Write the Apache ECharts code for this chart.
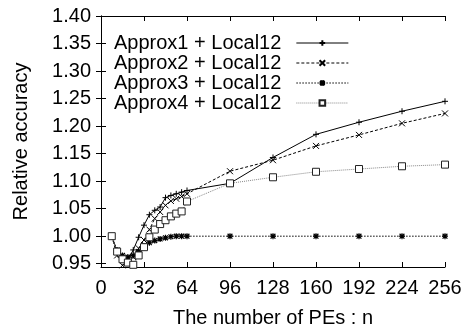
<!DOCTYPE html>
<html>
<head>
<meta charset="utf-8">
<script src="https://cdn.jsdelivr.net/npm/echarts@6/dist/echarts.min.js"></script>
<style>html,body{margin:0;padding:0;background:#fff}#c{width:462px;height:329px}</style>
</head>
<body>
<div id="c"></div>
<script>
const nValues = [8,12,16,20,24,28,32,36,40,44,48,52,56,60,64,96,128,160,192,224,256];
const approx1 = [1.000,0.972,0.960,0.957,0.975,0.998,1.020,1.039,1.047,1.053,1.070,1.074,1.077,1.080,1.083,1.096,1.143,1.185,1.207,1.227,1.245];
const approx2 = [1.000,0.965,0.947,0.952,0.962,0.978,0.993,1.012,1.032,1.044,1.056,1.064,1.068,1.072,1.077,1.118,1.138,1.164,1.184,1.205,1.223];
const approx3 = [1.000,0.975,0.965,0.962,0.965,0.972,0.982,0.988,0.992,0.995,0.997,0.999,1.000,1.000,1.000,1.000,1.000,1.000,1.000,1.000,1.000];
const approx4 = [1.000,0.972,0.958,0.952,0.948,0.965,0.980,0.998,1.012,1.022,1.029,1.036,1.041,1.045,1.063,1.096,1.107,1.117,1.122,1.127,1.130];
const seriesNames = ['Approx1 + Local12','Approx2 + Local12','Approx3 + Local12','Approx4 + Local12'];
const yTicks = [0.95,1.00,1.05,1.10,1.15,1.20,1.25,1.30,1.35,1.40];
const xTicks = [0,32,64,96,128,160,192,224,256];

const FONT = '"Liberation Sans", Arial, Helvetica, sans-serif';
const pairs = arr => nValues.map((n,i)=>[n,arr[i]]);

const plusPath = 'path://M5,0L5,10M0,5L10,5';
const crossPath = 'path://M0,0L10,10M10,0L0,10';
const starPath = 'path://M5,0L5,10M0,5L10,5M1,1L9,9M9,1L1,9';

const chart = echarts.init(document.getElementById('c'), null, {renderer:'canvas'});
const axisLine = {show:true, lineStyle:{color:'#000', width:1}};
const tick = {show:true, inside:true, length:5, lineStyle:{color:'#000', width:1}};

chart.setOption({
  animation:false,
  backgroundColor:'#fff',
  grid:{left:101, right:17, top:16, bottom:62, containLabel:false, outerBoundsMode:'none'},
  legend:{
    orient:'vertical', left:114, top:33, align:'right', padding:0,
    itemWidth:52, itemHeight:7, itemGap:0,
    textStyle:{fontFamily:FONT, fontSize:20, color:'#000', lineHeight:19, padding:[0,10,0,0]},
    lineStyle:{width:1},
    data:seriesNames
  },
  xAxis:[
    {type:'value', min:0, max:256, interval:32, position:'bottom',
     name:'The number of PEs : n', nameLocation:'middle', nameGap:41,
     nameTextStyle:{fontFamily:FONT, fontSize:20, color:'#000'},
     axisLine:axisLine, axisTick:tick, splitLine:{show:false},
     axisLabel:{fontFamily:FONT, fontSize:20, color:'#000', margin:11}},
    {type:'value', min:0, max:256, interval:32, position:'top',
     axisLine:axisLine, axisTick:tick, splitLine:{show:false}, axisLabel:{show:false}}
  ],
  yAxis:[
    {type:'value', min:0.944, max:1.40, position:'left',
     name:'Relative accuracy', nameLocation:'middle', nameGap:70,
     nameTextStyle:{fontFamily:FONT, fontSize:20, color:'#000'},
     axisLine:axisLine, axisTick:Object.assign({customValues:yTicks}, tick), splitLine:{show:false},
     axisLabel:{customValues:yTicks, fontFamily:FONT, fontSize:20, color:'#000', margin:10,
       formatter:v=>Number(v).toFixed(2)}},
    {type:'value', min:0.944, max:1.40, position:'right',
     axisLine:axisLine, axisTick:Object.assign({customValues:yTicks}, tick), splitLine:{show:false},
     axisLabel:{show:false}}
  ],
  series:[
    {name:seriesNames[0], type:'line', data:pairs(approx1), symbol:plusPath, symbolSize:6,
     lineStyle:{color:'#000', width:1, type:'solid'},
     itemStyle:{color:'#000', borderColor:'#000', borderWidth:1}},
    {name:seriesNames[1], type:'line', data:pairs(approx2), symbol:crossPath, symbolSize:6,
     lineStyle:{color:'#000', width:1, type:[3,2]},
     itemStyle:{color:'#000', borderColor:'#000', borderWidth:1}},
    {name:seriesNames[2], type:'line', data:pairs(approx3), symbol:starPath, symbolSize:6,
     lineStyle:{color:'#000', width:1, type:[1.5,1.5]},
     itemStyle:{color:'#000', borderColor:'#000', borderWidth:1.2}},
    {name:seriesNames[3], type:'line', data:pairs(approx4), symbol:'rect', symbolSize:7,
     lineStyle:{color:'#888', width:1, type:[1,1]},
     itemStyle:{color:'#fff', borderColor:'#222', borderWidth:1}}
  ]
});
</script>
</body>
</html>
